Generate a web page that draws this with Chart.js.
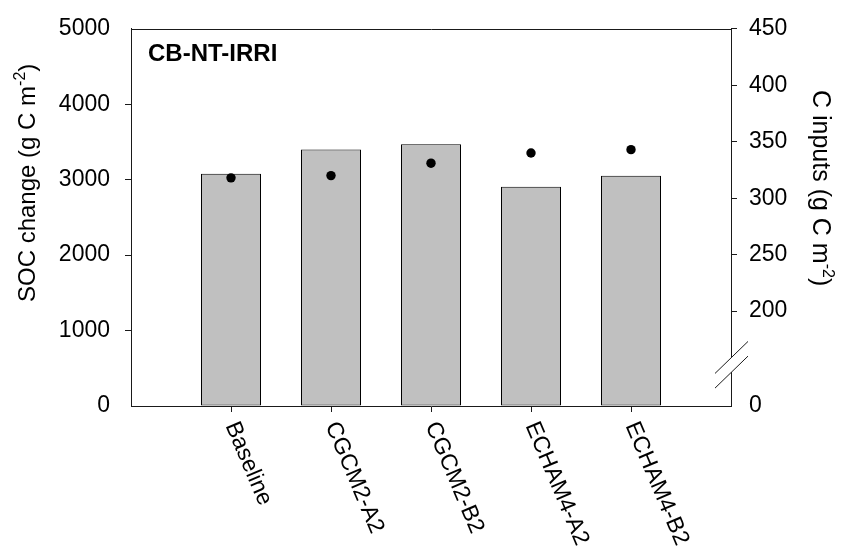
<!DOCTYPE html>
<html>
<head>
<meta charset="utf-8">
<script src="https://cdn.jsdelivr.net/npm/chart.js@4.4.1/dist/chart.umd.min.js"></script>
<style>
  html, body { margin: 0; padding: 0; background: #fff; }
  canvas { display: block; }
</style>
</head>
<body>
<canvas id="chart" width="845" height="556"></canvas>
<script>
// Scenario names along the x axis
const categories = ['Baseline', 'CGCM2-A2', 'CGCM2-B2', 'ECHAM4-A2', 'ECHAM4-B2'];
// SOC change (bars, left axis)
const socChange = [3078, 3400, 3468, 2905, 3052];
// C inputs (dots, right axis)
const cInputs = [318, 320, 331, 340, 343];
// Tick values
const socTicks = [0, 1000, 2000, 3000, 4000, 5000];
const inputTicks = [200, 250, 300, 350, 400, 450];
// Right axis is broken: its bottom stands for 0
const inputAxisFloor = 116;
const inputFloorLabel = '0';
const inputBreakMarks = [159, 146];
const panelLabel = 'CB-NT-IRRI';

const FONT = '"Liberation Sans", Arial, Helvetica, sans-serif';
const AXIS = '#1a1a1a';

// empty slots at both ends so the scenarios sit one step in from each axis
const xLabels = ['', ...categories, ''];
const pad = arr => [null, ...arr, null];

const hideAt = (values) => (ctx) =>
  (ctx.tick && values.includes(ctx.tick.value)) ? 'rgba(0,0,0,0)' : AXIS;

const decorations = {
  id: 'decorations',
  afterDraw(chart) {
    const { ctx, chartArea: a, scales } = chart;
    const y2 = scales.y2;
    const xs = scales.x;
    ctx.save();
    ctx.strokeStyle = AXIS;
    ctx.lineWidth = 1;

    // top edge of the frame
    ctx.beginPath();
    ctx.moveTo(a.left, Math.round(a.top) + 0.5);
    ctx.lineTo(a.right + 1, Math.round(a.top) + 0.5);
    ctx.stroke();

    // right axis line with a gap between the break slashes
    const rx = Math.round(a.right) + 0.5;
    const gTop = y2.getPixelForValue(inputBreakMarks[0]);
    const gBot = y2.getPixelForValue(inputBreakMarks[1]);
    ctx.beginPath();
    ctx.moveTo(rx, a.top);
    ctx.lineTo(rx, gTop);
    ctx.moveTo(rx, gBot);
    ctx.lineTo(rx, a.bottom + 0.5);
    ctx.stroke();

    // break slashes
    ctx.beginPath();
    [gTop, gBot].forEach(y => {
      ctx.moveTo(rx - 16.5, y + 16);
      ctx.lineTo(rx + 16.5, y - 16);
    });
    ctx.stroke();

    ctx.fillStyle = '#000';

    // panel label
    ctx.font = 'bold 24px ' + FONT;
    ctx.textAlign = 'left';
    ctx.textBaseline = 'alphabetic';
    ctx.fillText(panelLabel, a.left + 17, a.top + 32);

    // rotated scenario labels
    ctx.font = '23px ' + FONT;
    ctx.textBaseline = 'middle';
    categories.forEach((name, i) => {
      const px = xs.getPixelForValue(i + 1);
      ctx.save();
      ctx.translate(px, a.bottom + 17);
      ctx.rotate(67 * Math.PI / 180);
      ctx.fillText(name, 0, 0);
      ctx.restore();
    });

    // axis titles with superscript
    const titleWithSup = (main, sup, tail, size) => {
      ctx.font = size + 'px ' + FONT;
      const w1 = ctx.measureText(main).width;
      ctx.font = Math.round(size * 0.65) + 'px ' + FONT;
      const w2 = ctx.measureText(sup).width;
      return {
        draw() {
          ctx.textAlign = 'left';
          ctx.textBaseline = 'alphabetic';
          ctx.font = size + 'px ' + FONT;
          ctx.fillText(main, 0, 0);
          ctx.font = Math.round(size * 0.65) + 'px ' + FONT;
          ctx.fillText(sup, w1, -size * 0.4);
          ctx.font = size + 'px ' + FONT;
          ctx.fillText(tail, w1 + w2, 0);
        }
      };
    };

    // left title, reading upward
    const lt = titleWithSup('SOC change (g C m', '-2', ')', 24);
    ctx.save();
    ctx.translate(35, 302);
    ctx.rotate(-Math.PI / 2);
    lt.draw();
    ctx.restore();

    // right title, reading downward
    const rt = titleWithSup('C inputs (g C m', '-2', ')', 25);
    ctx.save();
    ctx.translate(813, 90);
    ctx.rotate(Math.PI / 2);
    rt.draw();
    ctx.restore();

    ctx.restore();
  }
};

new Chart(document.getElementById('chart'), {
  type: 'bar',
  data: {
    labels: xLabels,
    datasets: [
      {
        type: 'line',
        label: 'C inputs',
        data: pad(cInputs),
        yAxisID: 'y2',
        showLine: false,
        pointRadius: 4.7,
        pointBackgroundColor: '#000',
        pointBorderColor: '#000',
        pointBorderWidth: 0,
        order: 0
      },
      {
        label: 'SOC change',
        data: pad(socChange),
        yAxisID: 'y',
        backgroundColor: '#c0c0c0',
        borderColor: '#000',
        borderWidth: 1,
        borderSkipped: false,
        inflateAmount: 0,
        categoryPercentage: 1,
        barPercentage: 0.6,
        order: 1
      }
    ]
  },
  options: {
    responsive: false,
    animation: false,
    devicePixelRatio: 1,
    layout: { padding: { top: 21, left: 0, right: 0, bottom: 0 } },
    plugins: {
      legend: { display: false },
      tooltip: { enabled: false },
      title: { display: false }
    },
    scales: {
      x: {
        type: 'category',
        offset: false,
        grid: {
          offset: false,
          drawOnChartArea: false,
          drawTicks: true,
          tickLength: 6,
          color: (ctx) => (ctx.index === 0 || ctx.index === xLabels.length - 1) ? 'rgba(0,0,0,0)' : AXIS,
          tickColor: (ctx) => (ctx.index === 0 || ctx.index === xLabels.length - 1) ? 'rgba(0,0,0,0)' : AXIS
        },
        border: { display: true, color: AXIS, width: 1 },
        ticks: { display: false },
        afterFit: (s) => { s.height = 150; }
      },
      y: {
        position: 'left',
        min: socTicks[0],
        max: socTicks[socTicks.length - 1],
        afterBuildTicks: (s) => { s.ticks = socTicks.map(v => ({ value: v })); },
        grid: {
          drawOnChartArea: false,
          tickLength: 6,
          color: hideAt([0, 5000]),
          tickColor: hideAt([0, 5000])
        },
        border: { display: true, color: AXIS, width: 1 },
        ticks: {
          color: '#000',
          padding: 15,
          font: { family: FONT, size: 23 },
          callback: (v) => String(v)
        },
        afterFit: (s) => { s.width = 131; }
      },
      y2: {
        position: 'right',
        min: inputAxisFloor,
        max: inputTicks[inputTicks.length - 1],
        afterBuildTicks: (s) => {
          s.ticks = [inputAxisFloor, ...inputTicks].map(v => ({ value: v }));
        },
        grid: {
          drawOnChartArea: false,
          tickLength: 6,
          color: hideAt([inputAxisFloor]),
          tickColor: hideAt([inputAxisFloor])
        },
        border: { display: false },
        ticks: {
          color: '#000',
          padding: 12,
          font: { family: FONT, size: 23 },
          callback: (v) => v === inputAxisFloor ? inputFloorLabel : String(v)
        },
        afterFit: (s) => { s.width = 114; }
      }
    }
  },
  plugins: [decorations]
});
</script>
</body>
</html>
